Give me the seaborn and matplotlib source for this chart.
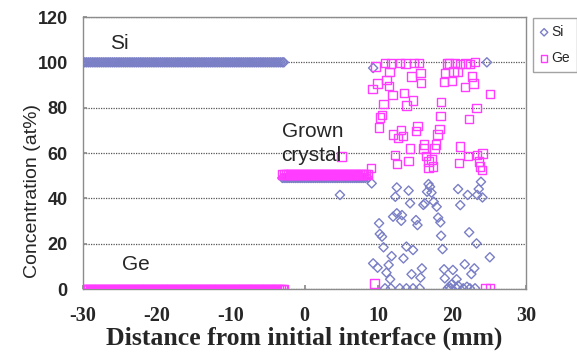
import pandas as pd
import matplotlib
matplotlib.use("Agg")
import matplotlib.pyplot as plt
import seaborn as sns

# Si / Ge line scan across the initial interface (at%)

# seed side, measured every 0.25 mm (Si = 100, Ge = 0)
feed_x = [-30.0, -29.75, -29.5, -29.25, -29.0, -28.75, -28.5, -28.25,
          -28.0, -27.75, -27.5, -27.25, -27.0, -26.75, -26.5, -26.25,
          -26.0, -25.75, -25.5, -25.25, -25.0, -24.75, -24.5, -24.25,
          -24.0, -23.75, -23.5, -23.25, -23.0, -22.75, -22.5, -22.25,
          -22.0, -21.75, -21.5, -21.25, -21.0, -20.75, -20.5, -20.25,
          -20.0, -19.75, -19.5, -19.25, -19.0, -18.75, -18.5, -18.25,
          -18.0, -17.75, -17.5, -17.25, -17.0, -16.75, -16.5, -16.25,
          -16.0, -15.75, -15.5, -15.25, -15.0, -14.75, -14.5, -14.25,
          -14.0, -13.75, -13.5, -13.25, -13.0, -12.75, -12.5, -12.25,
          -12.0, -11.75, -11.5, -11.25, -11.0, -10.75, -10.5, -10.25,
          -10.0, -9.75, -9.5, -9.25, -9.0, -8.75, -8.5, -8.25,
          -8.0, -7.75, -7.5, -7.25, -7.0, -6.75, -6.5, -6.25,
          -6.0, -5.75, -5.5, -5.25, -5.0, -4.75, -4.5, -4.25,
          -4.0, -3.75, -3.5, -3.25, -3.0, -2.8]
feed_si = 100.0
feed_ge = 0.0

# grown crystal plateau (~50/50)
plateau_x = [-3.0, -2.75, -2.5, -2.25, -2.0, -1.75, -1.5, -1.25,
             -1.0, -0.75, -0.5, -0.25, 0.0, 0.25, 0.5, 0.75,
             1.0, 1.25, 1.5, 1.75, 2.0, 2.25, 2.5, 2.75,
             3.0, 3.25, 3.5, 3.75, 4.0, 4.25, 4.5, 4.75,
             5.0, 5.25, 5.5, 5.75, 6.0, 6.25, 6.5, 6.75,
             7.0, 7.25, 7.5, 7.75, 8.0, 8.25, 8.6]
plateau_si = 49.0
plateau_ge = 50.5

# scattered points beyond ~9 mm
si_x = [4.8, 9.1, 9.3, 12.5, 12.3, 14.1, 14.3, 16.8, 17.0, 16.6, 17.2, 16.3, 16.1, 17.5, 17.9, 20.8, 22.1, 21.1, 23.9, 23.6, 23.4, 24.1,
        12.5, 13.2, 12.0, 13.1, 10.1, 15.1, 15.3, 18.1, 18.4, 10.2, 10.5, 10.7, 13.8, 14.7, 18.5, 18.7, 22.3, 23.3, 25.1,
        11.8, 13.4, 9.3, 9.9, 11.4, 11.1, 11.6, 14.5, 15.9, 15.7, 18.9, 20.1, 19.0, 20.6, 21.7, 23.0, 22.6,
        10.9, 11.7, 12.9, 13.8, 14.7, 15.6, 19.4, 19.8, 20.6, 21.5, 22.4, 23.1, 19.6, 22.0, 19.9, 20.8, 24.7]
si_c = [41.5, 46.6, 97.5, 44.8, 40.7, 43.4, 37.8, 46.3, 45.1, 42.9, 42.5, 37.8, 37.1, 38.5, 36.3, 44.1, 41.5, 37.0, 47.3, 44.1, 41.5, 40.4,
        33.4, 32.6, 31.9, 30.1, 29.0, 30.4, 28.2, 31.5, 29.4, 24.3, 23.1, 18.4, 18.7, 17.2, 23.5, 17.6, 25.0, 20.1, 14.0,
        14.5, 13.5, 11.3, 9.4, 10.6, 7.2, 4.3, 6.5, 9.1, 5.0, 8.7, 8.4, 4.7, 4.3, 10.9, 9.1, 6.6,
        0.3, 0.3, 0.3, 0.3, 0.3, 0.3, 0.3, 0.3, 0.3, 0.3, 0.3, 0.3, 1.0, 1.0, 2.0, 1.5, 100.0]

ge_x = [9.6, 10.9, 11.7, 12.9, 13.7, 14.8, 15.5, 11.5, 15.7, 9.9, 9.2, 11.1, 11.4, 14.5, 15.8, 11.9, 13.5, 14.7, 10.7, 13.8,
        10.5, 10.2, 10.1, 12.0, 13.1, 13.3, 12.7, 15.3, 15.1, 18.5, 18.4, 18.3, 18.0, 22.3, 23.3, 25.1,
        19.3, 19.6, 20.4, 21.1, 21.8, 22.4, 23.1, 19.0, 20.2, 20.7, 22.7, 18.9, 20.0, 21.7, 22.9,
        14.3, 16.2, 16.1, 17.8, 17.6, 21.1, 22.1, 23.4, 24.1, 12.3, 12.5, 14.1, 16.5, 16.8, 17.2, 17.4, 20.9, 23.6, 23.8, 16.8,
        9.0, 24.0, 5.0, 9.5, 24.5, 25.1]
ge_c = [98.1, 99.8, 99.5, 99.8, 99.5, 99.8, 99.8, 95.6, 95.2, 90.7, 88.2, 92.2, 89.5, 93.7, 91.0, 85.6, 86.6, 83.1, 81.6, 81.0,
        76.8, 75.7, 71.2, 68.2, 70.1, 67.5, 66.5, 71.9, 69.7, 82.5, 76.3, 70.6, 68.2, 75.0, 80.0, 85.9,
        99.5, 99.5, 99.8, 99.2, 99.5, 99.2, 100.0, 95.4, 95.9, 95.6, 93.7, 91.2, 91.9, 89.2, 90.7,
        62.0, 63.8, 62.0, 63.8, 62.0, 62.8, 58.7, 59.1, 59.8, 59.1, 55.1, 56.6, 58.7, 56.2, 57.2, 54.0, 55.7, 56.2, 54.0, 53.5,
        53.5, 52.5, 58.4, 2.5, 0.3, 0.3]

SI_COLOR = "#7a7fc6"
GE_COLOR = "#ff3cff"

# long table: one row per measured point
si_df = pd.DataFrame({
    "x": feed_x + plateau_x + si_x,
    "conc": [feed_si] * len(feed_x) + [plateau_si] * len(plateau_x) + si_c,
})
ge_df = pd.DataFrame({
    "x": feed_x + plateau_x + ge_x,
    "conc": [feed_ge] * len(feed_x) + [plateau_ge] * len(plateau_x) + ge_c,
})

sns.set_theme(style="white")
plt.rcParams["font.family"] = ["Liberation Sans", "DejaVu Sans"]
plt.rcParams["axes.unicode_minus"] = False

fig, ax = plt.subplots(figsize=(5.77, 3.54), dpi=100)
fig.subplots_adjust(left=83 / 577, right=526 / 577, bottom=65 / 354, top=337 / 354)

sns.scatterplot(data=si_df, x="x", y="conc", marker="D", s=22, color=SI_COLOR,
                facecolor="none", edgecolor=SI_COLOR, linewidth=1.0, legend=False,
                ax=ax, zorder=3)
sns.scatterplot(data=ge_df, x="x", y="conc", marker="s", s=36, color=GE_COLOR,
                facecolor="none", edgecolor=GE_COLOR, linewidth=1.0, legend=False,
                ax=ax, zorder=4)

ax.set_xlim(-30, 30)
ax.set_ylim(0, 120)
ax.set_xticks([-30, -20, -10, 0, 10, 20, 30])
ax.set_yticks([0, 20, 40, 60, 80, 100, 120])
ax.yaxis.grid(True, linestyle=(0, (1, 1)), color="#555555", linewidth=0.9)
ax.set_axisbelow(True)

for sp in ax.spines.values():
    sp.set_color("#8c8c8c")
    sp.set_linewidth(1.0)

ax.tick_params(axis="both", direction="in", length=3, color="#8c8c8c",
               bottom=True, left=True)
ax.tick_params(axis="x", pad=12)
ax.tick_params(axis="y", pad=11)
for lab in ax.get_xticklabels():
    lab.set_fontfamily("Liberation Serif")
    lab.set_fontweight("bold")
    lab.set_fontsize(14.5)
for lab in ax.get_yticklabels():
    lab.set_fontweight("bold")
    lab.set_fontsize(13)

ax.set_xlabel("Distance from initial interface (mm)", fontfamily="Liberation Serif",
              fontweight="bold", fontsize=18.5)
ax.xaxis.label.set_va("center")
ax.xaxis.set_label_coords(0.5, -0.18)
ax.set_ylabel("Concentration (at%)", fontsize=14)
ax.yaxis.label.set_va("center")
ax.yaxis.set_label_coords(-0.115, 0.36)

ax.text(-26.4, 108.5, "Si", fontsize=15, va="center", ha="left")
ax.text(-24.7, 10.6, "Ge", fontsize=15, va="center", ha="left")
ax.text(-3.1, 69.5, "Grown", fontsize=15, va="center", ha="left", zorder=5)
ax.text(-3.1, 59.0, "crystal", fontsize=15, va="center", ha="left", zorder=5)

handles = [ax.collections[0], ax.collections[1]]
fig.legend(handles, ["Si", "Ge"], loc="upper left",
           bbox_to_anchor=(533 / 577, 1 - 18 / 354), bbox_transform=fig.transFigure,
           borderaxespad=0, frameon=True, fancybox=False, edgecolor="#8c8c8c",
           fontsize=10, handlelength=0.6, handletextpad=0.2, borderpad=0.5,
           labelspacing=0.9, markerscale=0.8)

fig.savefig("out.png", dpi=100)
